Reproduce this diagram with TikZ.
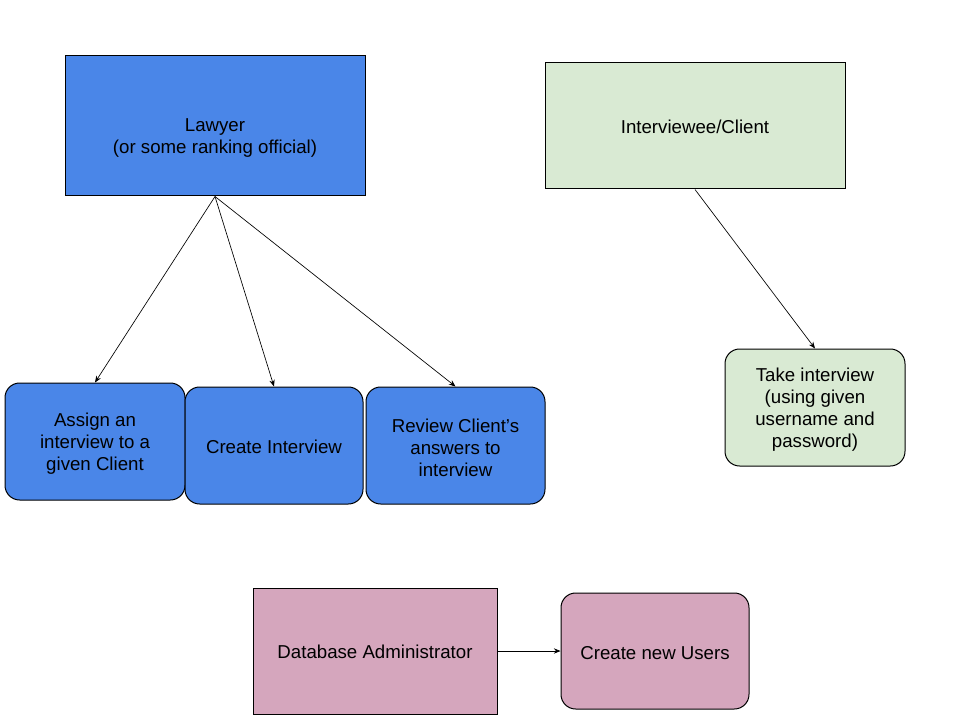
\documentclass[tikz,border=0pt]{standalone}
\usepackage{fontspec}
\setmainfont{Liberation Sans}
\usetikzlibrary{arrows.meta}
\definecolor{lawblue}{HTML}{4A86E8}
\definecolor{clientgreen}{HTML}{D9EAD3}
\definecolor{adminpink}{HTML}{D5A6BD}
\begin{document}
\begin{tikzpicture}[x=0.75pt,y=-0.75pt,
  boxbase/.style={draw=black, line width=0.75pt, inner sep=0pt},
  sqbox/.style={boxbase, rectangle},
  rbox/.style={boxbase, rectangle, rounded corners=11pt},
  txt/.style={font=\fontsize{14}{16.5}\selectfont, align=center, inner sep=0pt, text=black},
  conn/.style={-{Stealth[length=5pt,width=4pt]}, line width=0.5pt, draw=black}]
\useasboundingbox (0,0) rectangle (960,720);
\node[sqbox, fill=lawblue, minimum width=225pt, minimum height=105pt] (law) at (215,126) {};
\node[txt] (lawt) at (215,138.5) {Lawyer\\(or some ranking official)};
\node[sqbox, fill=clientgreen, minimum width=225pt, minimum height=94.5pt] (cli) at (695,126) {};
\node[txt] (clit) at (695,126.5) {Interviewee/Client};
\node[rbox, fill=lawblue, minimum width=135pt, minimum height=87.75pt] (assign) at (95,441.5) {};
\node[txt] (assignt) at (95,443.5) {Assign an\\interview to a\\given Client};
\node[rbox, fill=lawblue, minimum width=133.5pt, minimum height=87.75pt] (create) at (274,445.5) {};
\node[txt] (createt) at (274,447) {Create Interview};
\node[rbox, fill=lawblue, minimum width=134.25pt, minimum height=87.75pt] (review) at (455.5,445.5) {};
\node[txt] (reviewt) at (455.5,447.5) {Review Client’s\\answers to\\interview};
\node[rbox, fill=clientgreen, minimum width=135pt, minimum height=87.75pt] (take) at (815,407.5) {};
\node[txt] (taket) at (815,409.5) {Take interview\\(using given\\username and\\password)};
\node[sqbox, fill=adminpink, minimum width=183pt, minimum height=94.5pt] (dba) at (375,651) {};
\node[txt] (dbat) at (375,652) {Database Administrator};
\node[rbox, fill=adminpink, minimum width=141pt, minimum height=87pt] (users) at (655,651) {};
\node[txt] (userst) at (655,653) {Create new Users};
\draw[conn] (law.south) -- (assign.north);
\draw[conn] (law.south) -- (create.north);
\draw[conn] (law.south) -- (review.north);
\draw[conn] (cli.south) -- (take.north);
\draw[conn] (dba.east) -- (users.west);
\end{tikzpicture}
\end{document}
